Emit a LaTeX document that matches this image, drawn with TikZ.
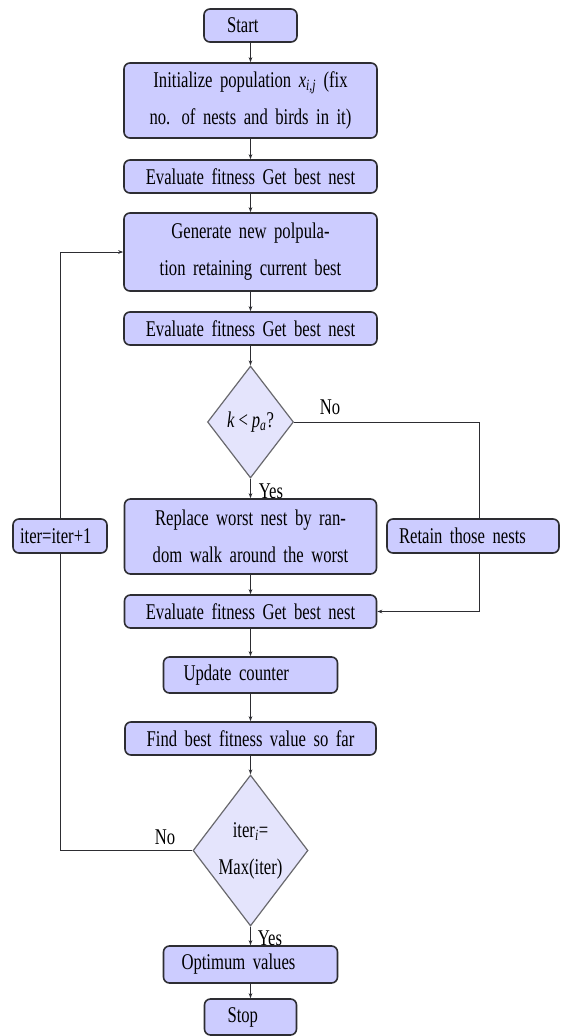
\documentclass[tikz,border=0pt]{standalone}
\usepackage{fontspec}
\setmainfont{Liberation Serif}[FakeStretch=0.74]
\usetikzlibrary{shapes.geometric,arrows.meta}
\definecolor{boxfill}{RGB}{204,204,255}
\definecolor{diafill}{RGB}{228,228,252}
\definecolor{edgecol}{RGB}{45,45,50}
\definecolor{diaedge}{RGB}{105,105,110}
\newcommand\myfs{\fontsize{22.5}{37}\selectfont\spaceskip=3.9pt plus 1pt minus 1pt\relax}
\begin{document}
\begin{tikzpicture}[x=1pt,y=-1pt,
  box/.style={draw=edgecol,line width=1.6pt,fill=boxfill,rounded corners=6pt,inner sep=0pt,font=\myfs,align=center},
  lbox/.style={box,align=left},
  dia/.style={diamond,draw=diaedge,line width=1.2pt,fill=diafill,inner sep=0pt},
  conn/.style={draw=edgecol,line width=0.9pt},
  arr/.style={conn,-{Stealth[length=5pt,width=3.6pt]}},
  lbl/.style={font=\myfs,inner sep=0pt,align=center}]
\fill[white] (0,0) rectangle (560,1036);
\useasboundingbox (0,0) rectangle (560,1036);

\node[lbox,minimum width=93pt,minimum height=33pt,text width=47pt,inner xsep=23pt] (start) at (250.5,25.5) {Start};
\node[box,minimum width=253pt,minimum height=75pt,text width=253pt] (init) at (250.5,100.5) {Initialize population \textit{x}\textsubscript{\textit{i,j}} (fix\\no. of nests and birds in it)};
\node[box,minimum width=253pt,minimum height=33pt,text width=253pt] (eval1) at (250.5,176.5) {Evaluate fitness Get best nest};
\node[box,minimum width=253pt,minimum height=78pt,text width=253pt] (gen) at (250.5,252) {Generate new polpula-\\tion retaining current best};
\node[box,minimum width=253pt,minimum height=33pt,text width=253pt] (eval2) at (250.5,328.5) {Evaluate fitness Get best nest};
\node[dia,minimum width=86pt,minimum height=112pt,label={[lbl]center:{\textit{k} < \textit{p}\textsubscript{\textit{a}}?}}] (dia1) at (250.5,422) {};
\node[box,minimum width=252pt,minimum height=75pt,text width=252pt] (repl) at (250.5,536.5) {Replace worst nest by ran-\\dom walk around the worst};
\node[lbox,minimum width=94pt,minimum height=34pt,text width=80pt,inner xsep=7pt] (iter) at (60,536) {iter=iter+1};
\node[lbox,minimum width=172pt,minimum height=34pt,text width=148pt,inner xsep=12pt] (retain) at (473,536) {Retain those nests};
\node[box,minimum width=252pt,minimum height=33pt,text width=252pt] (eval3) at (250.5,611.5) {Evaluate fitness Get best nest};
\node[lbox,minimum width=174pt,minimum height=36pt,text width=134pt,inner xsep=20pt] (upd) at (250.5,675) {Update counter};
\node[box,minimum width=251pt,minimum height=33pt,text width=251pt] (find) at (250.5,738.5) {Find best fitness value so far};
\node[dia,minimum width=115pt,minimum height=151pt,label={[lbl]center:{iter\textsubscript{\textit{i}}=\\Max(iter)}}] (dia2) at (250.5,850.5) {};
\node[lbox,minimum width=174pt,minimum height=37pt,text width=138pt,inner xsep=18pt] (opt) at (250.5,964.5) {Optimum values};
\node[lbox,minimum width=92pt,minimum height=36pt,text width=46pt,inner xsep=23pt] (stop) at (250.5,1017) {Stop};

\draw[arr] (start.south) -- (init.north);
\draw[arr] (init.south) -- (eval1.north);
\draw[arr] (eval1.south) -- (gen.north);
\draw[arr] (gen.south) -- (eval2.north);
\draw[arr] (eval2.south) -- (dia1.north);
\draw[arr] (dia1.south) -- (repl.north);
\node[lbl] (yes1) at (271,491) {Yes};
\coordinate (rx) at (479,422);
\draw[conn] (dia1.east) -- (rx) -- (rx |- retain.north);
\node[lbl] (no1) at (330,407) {No};
\draw[arr] (rx |- retain.south) |- (eval3.east);
\draw[arr] (repl.south) -- (eval3.north);
\draw[arr] (eval3.south) -- (upd.north);
\draw[arr] (upd.south) -- (find.north);
\draw[arr] (find.south) -- (dia2.north);
\draw[arr] (dia2.south) -- (opt.north);
\node[lbl] (yes2) at (270,938) {Yes};
\draw[arr] (opt.south) -- (stop.north);
\draw[conn] (dia2.west) -| (iter.south);
\draw[arr] (iter.north) |- (gen.west);
\node[lbl] (no2) at (165,837) {No};
\end{tikzpicture}
\end{document}
